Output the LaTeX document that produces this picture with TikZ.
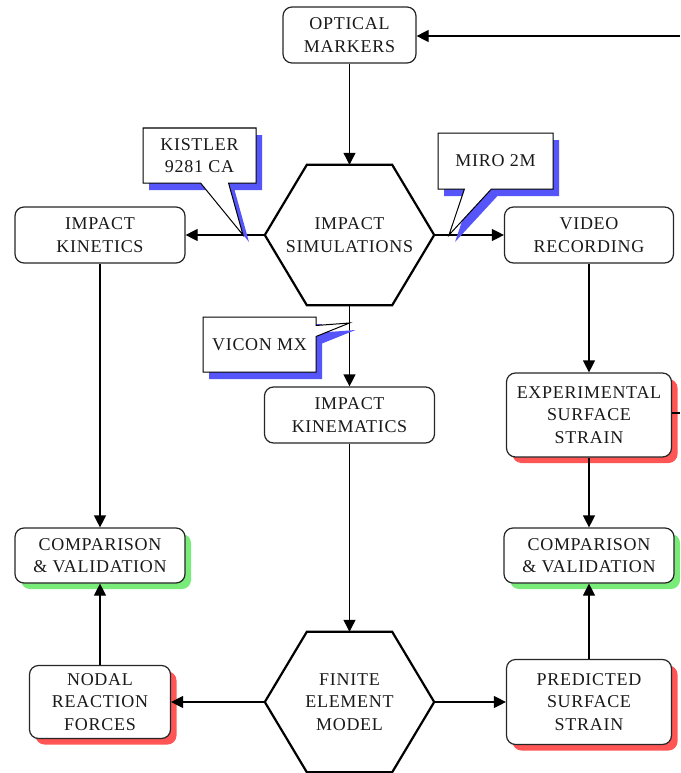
\documentclass[tikz,border=0pt]{standalone}
\usepackage{fontspec}
\setmainfont[LetterSpace=4]{Liberation Serif}
\usetikzlibrary{arrows.meta,shapes.callouts,shadows}
\definecolor{shred}{RGB}{255,85,85}
\definecolor{shgreen}{RGB}{120,235,120}
\definecolor{shblue}{RGB}{85,85,250}
\definecolor{txt}{RGB}{25,25,25}
\tikzset{
  every node/.style={font=\fontsize{18}{22.5}\selectfont, text=txt, align=center, inner sep=0pt},
  box/.style={draw=black!85, line width=1.2pt, rounded corners=9pt, fill=white},
  redbox/.style={box, drop shadow={shadow xshift=6pt, shadow yshift=-6pt, fill=shred, opacity=1}},
  greenbox/.style={box, drop shadow={shadow xshift=6pt, shadow yshift=-6pt, fill=shgreen, opacity=1}},
  hexnode/.style={minimum width=169pt, minimum height=140pt},
  hexline/.style={draw=black, line width=2.2pt, line join=miter},
  callbox/.style={rectangle callout, draw=black, line width=1pt, fill=white,
     drop shadow={shadow xshift=6pt, shadow yshift=-7pt, fill=shblue, opacity=1}},
  arr/.style={draw=black, line width=1.2pt, -{Triangle[length=12pt,width=12pt]}},
  plain/.style={draw=black, line width=1.2pt},
}
\begin{document}
\begin{tikzpicture}[x=1pt,y=1pt]
\useasboundingbox (0,0) rectangle (680,-773);

% hexagons
\node[hexnode] (sim) at (349.5,-235) {IMPACT\\SIMULATIONS};
\draw[hexline] (sim.west) -- ([xshift=42pt]sim.north west) -- ([xshift=-42pt]sim.north east) -- (sim.east) -- ([xshift=-42pt]sim.south east) -- ([xshift=42pt]sim.south west) -- cycle;
\node[hexnode] (fe) at (349.5,-702) {FINITE\\ELEMENT\\MODEL};
\draw[hexline] (fe.west) -- ([xshift=42pt]fe.north west) -- ([xshift=-42pt]fe.north east) -- (fe.east) -- ([xshift=-42pt]fe.south east) -- ([xshift=42pt]fe.south west) -- cycle;

% boxes
\node[box, minimum width=133pt, minimum height=56pt] (opt) at (349.5,-35) {OPTICAL\\MARKERS};
\node[box, minimum width=170pt, minimum height=56pt] (kin) at (100,-235) {IMPACT\\KINETICS};
\node[box, minimum width=169pt, minimum height=56pt] (vid) at (589,-235) {VIDEO\\RECORDING};
\node[box, minimum width=170pt, minimum height=56pt] (kmt) at (349.5,-415) {IMPACT\\KINEMATICS};
\node[redbox, minimum width=165pt, minimum height=84pt] (exp) at (589,-415) {EXPERIMENTAL\\SURFACE\\STRAIN};
\node[greenbox, minimum width=170pt, minimum height=55pt] (cmpL) at (100,-555.5) {COMPARISON\\\& VALIDATION};
\node[greenbox, minimum width=170pt, minimum height=55pt] (cmpR) at (589,-555.5) {COMPARISON\\\& VALIDATION};
\node[redbox, minimum width=141pt, minimum height=73pt] (nod) at (100,-702) {NODAL\\REACTION\\FORCES};
\node[redbox, minimum width=165pt, minimum height=85pt] (pred) at (589,-702) {PREDICTED\\SURFACE\\STRAIN};

% free ends at the right margin
\coordinate (rin) at (680,-36);
\coordinate (rout) at (680,-413);

% connectors
\draw[arr] (rin) -- (opt.east |- rin);
\draw[plain] (exp.east |- rout) -- (rout);
\draw[arr] (opt.south) -- (sim.north);
\draw[arr] (sim.west) -- (kin.east);
\draw[arr] (sim.east) -- (vid.west);
\draw[arr] (sim.south) -- (kmt.north);
\draw[arr] (kmt.south) -- (fe.north);
\draw[arr] (kin.south) -- (cmpL.north);
\draw[arr] (vid.south) -- (exp.north);
\draw[arr] (exp.south) -- (cmpR.north);
\draw[arr] (fe.west) -- (nod.east);
\draw[arr] (fe.east) -- (pred.west);
\draw[arr] (nod.north) -- (cmpL.south);
\draw[arr] (pred.north) -- (cmpR.south);

% callouts
\node[callbox, minimum width=113pt, minimum height=55pt, callout pointer width=28pt,
      callout absolute pointer={(243,-235)}] (kis) at (199.5,-155.5) {KISTLER\\9281 CA};
\node[callbox, minimum width=115pt, minimum height=56pt, callout pointer width=27pt,
      callout absolute pointer={(449,-235)}] (miro) at (495.5,-161) {MIRO 2M};
\node[callbox, minimum width=113pt, minimum height=55pt, callout pointer width=11pt,
      callout absolute pointer={(349.5,-323)}] (vicon) at (259.5,-344.5) {VICON MX};
\end{tikzpicture}
\end{document}
